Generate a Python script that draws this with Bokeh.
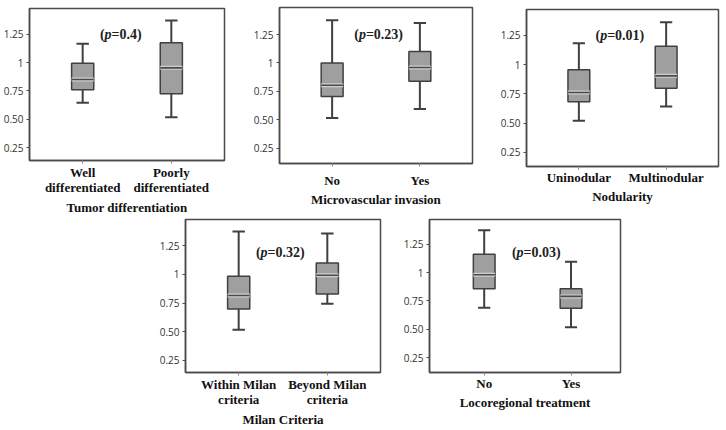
from bokeh.plotting import figure
from bokeh.layouts import column, row
from bokeh.models import Spacer, FixedTicker, Range1d, ColumnDataSource
from bokeh.embed import file_html
from bokeh.resources import INLINE
from bokeh.core.properties import value

# ---------------- data ----------------
titles = ["Tumor differentiation", "Microvascular invasion", "Nodularity",
          "Milan Criteria", "Locoregional treatment"]
categories = [
    ["Well\ndifferentiated", "Poorly\ndifferentiated"],
    ["No", "Yes"],
    ["Uninodular", "Multinodular"],
    ["Within Milan\ncriteria", "Beyond Milan\ncriteria"],
    ["No", "Yes"],
]
whisker_low = [[0.646, 0.518], [0.518, 0.597], [0.522, 0.642], [0.517, 0.743], [0.689, 0.518]]
q1_values = [[0.760, 0.725], [0.706, 0.840], [0.684, 0.799], [0.699, 0.828], [0.858, 0.685]]
medians = [[0.852, 0.955], [0.805, 0.960], [0.762, 0.905], [0.816, 0.992], [0.981, 0.790]]
q3_values = [[0.996, 1.177], [1.000, 1.100], [0.956, 1.158], [0.983, 1.100], [1.162, 0.858]]
whisker_high = [[1.168, 1.374], [1.375, 1.352], [1.184, 1.364], [1.373, 1.356], [1.373, 1.097]]
p_values = ["0.4", "0.23", "0.01", "0.32", "0.03"]
y_ticks = [0.25, 0.5, 0.75, 1.0, 1.25]
y_tick_labels = ["0.25", "0.50", "0.75", "1", "1.25"]

# ---------------- layout / style ----------------
# (width, height, border_left, border_right, border_top, border_bottom,
#  y_start, y_end, x_start, x_end, p_label_x, p_label_y, tick_standoff, label_standoff)
specs = [
    (250, 218, 29, 26, 8, 58, 0.135, 1.48, 0.40, 2.60, 1.43, 1.25, 1, 2),
    (247, 218, 25, 25, 7, 55, 0.118, 1.487, 0.40, 2.60, 1.53, 1.25, 6, 1),
    (223, 218, 25, 2, 9, 52, 0.130, 1.472, 0.40, 2.60, 1.47, 1.25, 0, 1),
    (245, 212, 30, 20, 1, 58, 0.145, 1.478, 0.40, 2.60, 1.47, 1.19, 1, 2),
    (240, 212, 28, 20, 1, 58, 0.118, 1.469, 0.37, 2.57, 1.60, 1.18, 0, 1),
]
LEFT_GAP = 155

SERIF = "Liberation Serif"
SANS = "Open Sans"
DARK = "#404040"
AXIS = "#4a4a4a"
BOX_W = 0.25
CAP_W = 0.14


def make_panel(i):
    (w, h, bl, br, bt, bb, y0, y1, x0, x1, px, py, tstand, lstand) = specs[i]
    p = figure(width=w, height=h, output_backend="svg", toolbar_location=None,
               x_range=Range1d(x0, x1), y_range=Range1d(y0, y1),
               min_border_left=bl, min_border_right=br,
               min_border_top=bt, min_border_bottom=bb,
               background_fill_color="white", border_fill_color="white")
    p.xgrid.visible = False
    p.ygrid.visible = False
    p.outline_line_color = AXIS
    p.outline_line_width = 1.5
    p.outline_line_alpha = 1.0

    xs = [1, 2]
    src = ColumnDataSource(dict(
        x=xs, lo=whisker_low[i], q1=q1_values[i], med=medians[i],
        q3=q3_values[i], hi=whisker_high[i],
        cl=[x - CAP_W / 2 for x in xs], cr=[x + CAP_W / 2 for x in xs],
        ml=[x - BOX_W / 2 for x in xs], mr=[x + BOX_W / 2 for x in xs],
    ))
    # whiskers
    p.segment(x0="x", y0="lo", x1="x", y1="q1", source=src, line_color=DARK, line_width=2)
    p.segment(x0="x", y0="q3", x1="x", y1="hi", source=src, line_color=DARK, line_width=2)
    p.segment(x0="cl", y0="lo", x1="cr", y1="lo", source=src, line_color=DARK, line_width=2)
    p.segment(x0="cl", y0="hi", x1="cr", y1="hi", source=src, line_color=DARK, line_width=2)
    # boxes
    p.vbar(x="x", width=BOX_W, bottom="q1", top="q3", source=src,
           fill_color="#9f9f9f", line_color=DARK, line_width=1.5)
    # median
    p.segment(x0="ml", y0="med", x1="mr", y1="med", source=src,
              line_color="#cfcfcf", line_width=4)
    p.segment(x0="ml", y0="med", x1="mr", y1="med", source=src,
              line_color="#4a4a4a", line_width=1.6)

    # p-value label: "(" + italic "p" + "=value)"
    rest = "=" + p_values[i] + ")"
    fs = 14
    w_open = 0.333 * fs
    w_p = 0.5 * fs
    w_rest = sum(0.25 if c == "." else 0.333 if c == ")" else 0.57 if c == "=" else 0.5 for c in rest) * fs
    total = w_open + w_p + w_rest
    start = -total / 2
    common = dict(text_font=value(SERIF), text_font_size=f"{fs}px",
                  text_color="#222222", text_baseline="middle", text_align="left")
    p.text(x=[px], y=[py], text=["("], x_offset=start, text_font_style="bold", **common)
    p.text(x=[px], y=[py], text=["p"], x_offset=start + w_open, text_font_style="bold italic", **common)
    p.text(x=[px], y=[py], text=[rest], x_offset=start + w_open + w_p, text_font_style="bold", **common)

    # axes
    yax = p.yaxis[0]
    yax.ticker = FixedTicker(ticks=y_ticks)
    yax.major_label_overrides = {t: l for t, l in zip(y_ticks, y_tick_labels)}
    yax.major_label_text_font = SANS
    yax.major_label_text_font_size = "10px"
    yax.major_label_text_color = "#333333"
    yax.major_tick_out = 3
    yax.major_tick_in = 0
    yax.minor_tick_out = 0
    yax.minor_tick_in = 0
    yax.major_label_standoff = 3
    yax.axis_line_color = AXIS
    yax.axis_line_width = 1.5
    yax.major_tick_line_color = AXIS

    xax = p.xaxis[0]
    xax.ticker = FixedTicker(ticks=xs)
    xax.major_label_overrides = {x: c for x, c in zip(xs, categories[i])}
    xax.major_label_text_font = SERIF
    xax.major_label_text_font_style = "bold"
    xax.major_label_text_font_size = "13px"
    xax.major_label_text_color = "#111111"
    xax.major_label_text_line_height = 1.0
    xax.major_tick_out = 3
    xax.major_tick_in = 0
    xax.minor_tick_out = 0
    xax.minor_tick_in = 0
    xax.major_label_standoff = tstand
    xax.axis_line_color = AXIS
    xax.axis_line_width = 1.5
    xax.major_tick_line_color = "#888888"
    xax.axis_label = titles[i]
    xax.axis_label_text_font = SERIF
    xax.axis_label_text_font_style = "bold"
    xax.axis_label_text_font_size = "13px"
    xax.axis_label_text_color = "#111111"
    xax.axis_label_standoff = lstand
    return p


panels = [make_panel(i) for i in range(5)]
top = row(column(panels[0]), column(panels[1]), column(panels[2]), spacing=0)
bottom = row(Spacer(width=LEFT_GAP, height=specs[3][1]), column(panels[3]), column(panels[4]), spacing=0)
layout = column(top, bottom, spacing=0)

open("out.html", "w").write(file_html(layout, INLINE))
